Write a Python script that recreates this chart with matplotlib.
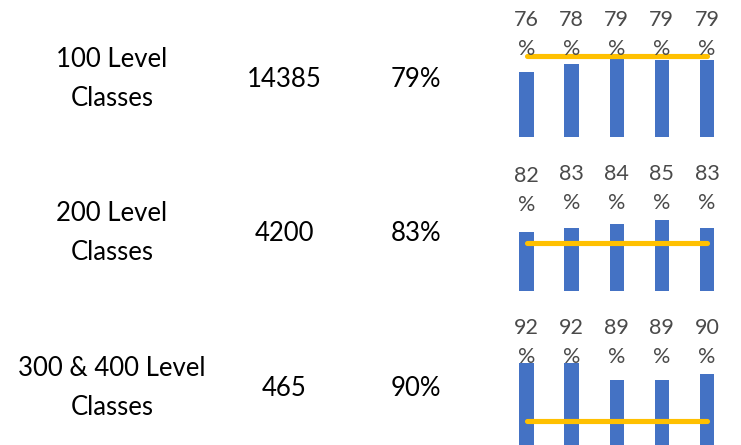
import matplotlib
matplotlib.use("Agg")
import matplotlib.pyplot as plt
from matplotlib.transforms import blended_transform_factory

plt.rcParams['font.family'] = ['Lato', 'DejaVu Sans']

# ---- data ----
row_labels = [["100 Level", "Classes"], ["200 Level", "Classes"], ["300 & 400 Level", "Classes"]]
counts = ["14385", "4200", "465"]
overall = ["79%", "83%", "90%"]
bars_row1 = [76, 78, 79.4, 79, 79]
bars_row2 = [82, 83, 84, 85, 83]
bars_row3 = [92, 92, 89, 89, 90]
bar_values = [bars_row1, bars_row2, bars_row3]
targets = [80, 79.3, 81.7]
ymins = [59.8, 67.25, 77.5]
scales = [4.0, 4.0, 5.67]   # px per percent point

W, H = 741, 445
fig = plt.figure(figsize=(W / 100, H / 100), dpi=100)

def fx(x):
    return x / W

def fy(y):
    return 1 - y / H

row_off = [0, 154, 309]
bottoms = [136.7, 291, 445]
ax_h = 130.0
x_left, x_right = 503.95, 729.55

for r in range(3):
    o = row_off[r]
    # left labels
    fig.text(fx(112), fy(67.3 + o), row_labels[r][0], ha='center', va='baseline',
             fontsize=18.5, color='black')
    fig.text(fx(112), fy(106 + o), row_labels[r][1], ha='center', va='baseline',
             fontsize=18.5, color='black')
    fig.text(fx(284.5), fy(86.7 + o), counts[r], ha='center', va='baseline',
             fontsize=18.5, color='black')
    fig.text(fx(416), fy(86.7 + o), overall[r], ha='center', va='baseline',
             fontsize=18.5, color='black')

    # mini chart
    b = bottoms[r]
    ax = fig.add_axes([fx(x_left), fy(b), (x_right - x_left) / W, ax_h / H])
    ymin = ymins[r]
    ymax = ymin + ax_h / scales[r]
    vals = bar_values[r]
    xs = list(range(len(vals)))
    ax.bar(xs, vals, width=0.317, color='#4472C4', zorder=2)
    ax.plot(xs, [targets[r]] * len(xs), color='#FFC000', lw=3.7,
            solid_capstyle='round', zorder=3, clip_on=False)
    ax.set_xlim(-0.5, len(vals) - 0.5)
    ax.set_ylim(ymin, ymax)
    ax.axis('off')

    tr = blended_transform_factory(ax.transData, ax.transAxes)
    for i, v in enumerate(vals):
        bar_top_frac = (v - ymin) / (ymax - ymin)
        pct_frac = min(1 - 42 / ax_h, bar_top_frac + 27 / ax_h)
        num_frac = pct_frac + 29 / ax_h
        ax.text(i, num_frac, f"{round(v)}", transform=tr, ha='center', va='center',
                fontsize=15.5, color='#4a4a4a', zorder=4, clip_on=False)
        ax.text(i, pct_frac, "%", transform=tr, ha='center', va='center',
                fontsize=15.5, color='#4a4a4a', zorder=4, clip_on=False)

fig.savefig("out.png", dpi=100)
